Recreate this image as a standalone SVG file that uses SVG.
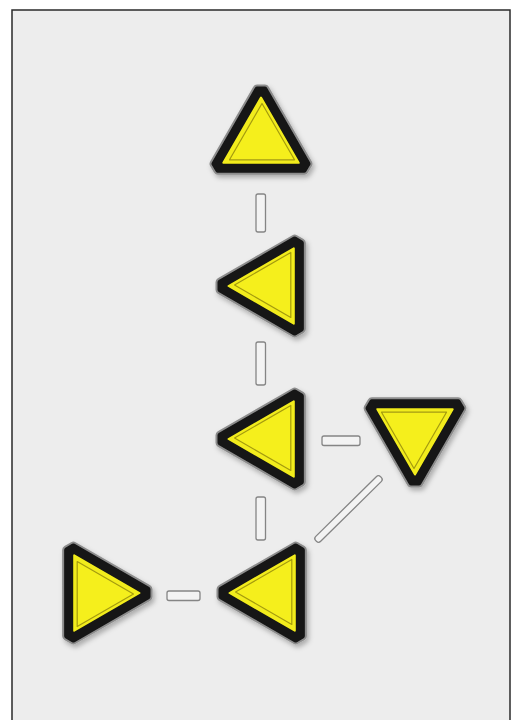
<svg xmlns="http://www.w3.org/2000/svg" width="514" height="720" viewBox="0 0 514 720">
<style>
.tube{fill:#f3f3f3;stroke:#858585;stroke-width:1.3}
.rim{fill:#8c8c8c;stroke:#8c8c8c;stroke-width:9;stroke-linejoin:round}
.blk{fill:#141414;stroke:#141414;stroke-width:5;stroke-linejoin:round}
.ylo{fill:#f2ec1b;stroke:#f2ec1b;stroke-width:2;stroke-linejoin:round}
.yli{fill:#f5ef1e;stroke:#a49b10;stroke-width:1.2;stroke-linejoin:round}
</style>
<defs>
<filter id="sh" x="-30%" y="-30%" width="160%" height="160%">
<feGaussianBlur in="SourceAlpha" stdDeviation="2.5"/>
<feOffset dx="2" dy="3" result="b"/>
<feFlood flood-color="#000" flood-opacity="0.28"/>
<feComposite in2="b" operator="in"/>
<feMerge><feMergeNode/><feMergeNode in="SourceGraphic"/></feMerge>
</filter>
<g id="tri">
<path class="rim" d="M3.87,-52 L46.97,22.65 L43.1,29.35 L-43.1,29.35 L-46.97,22.65 L-3.87,-52 Z"/>
<path class="blk" d="M3.87,-52 L46.97,22.65 L43.1,29.35 L-43.1,29.35 L-46.97,22.65 L-3.87,-52 Z"/>
<path class="ylo" d="M0,-43.5 L37.7,21.8 L-37.7,21.8 Z"/>
<path class="yli" d="M1,-37.5 L33.5,18.8 L-31.5,18.8 Z"/>
</g>
</defs>
<rect x="0" y="0" width="514" height="720" fill="#ffffff"/>
<rect x="12" y="10" width="498" height="720" fill="#ededed" stroke="#2a2a2a" stroke-width="1.5"/>
<g id="connectors">
<rect class="tube" x="256" y="194" width="9.5" height="38" rx="2"/>
<rect class="tube" x="256" y="342" width="9.5" height="43" rx="2"/>
<rect class="tube" x="256" y="497" width="9.5" height="43" rx="2"/>
<rect class="tube" x="322" y="436" width="38" height="9.5" rx="2"/>
<rect class="tube" x="167" y="591" width="33" height="9.5" rx="2"/>
<rect class="tube" x="-45.5" y="-3.5" width="91" height="7" rx="3" transform="translate(348.5,509) rotate(-44.6)"/>
</g>
<g id="node1" filter="url(#sh)"><use href="#tri" transform="translate(261,141)"/></g>
<g id="node2" filter="url(#sh)"><use href="#tri" transform="translate(272,286) rotate(-90)"/></g>
<g id="node3" filter="url(#sh)"><use href="#tri" transform="translate(272,439) rotate(-90)"/></g>
<g id="node4" filter="url(#sh)"><use href="#tri" transform="translate(415,431) rotate(180)"/></g>
<g id="node5" filter="url(#sh)"><use href="#tri" transform="translate(273,593) rotate(-90)"/></g>
<g id="node6" filter="url(#sh)"><use href="#tri" transform="translate(96,593) rotate(90)"/></g>
</svg>
